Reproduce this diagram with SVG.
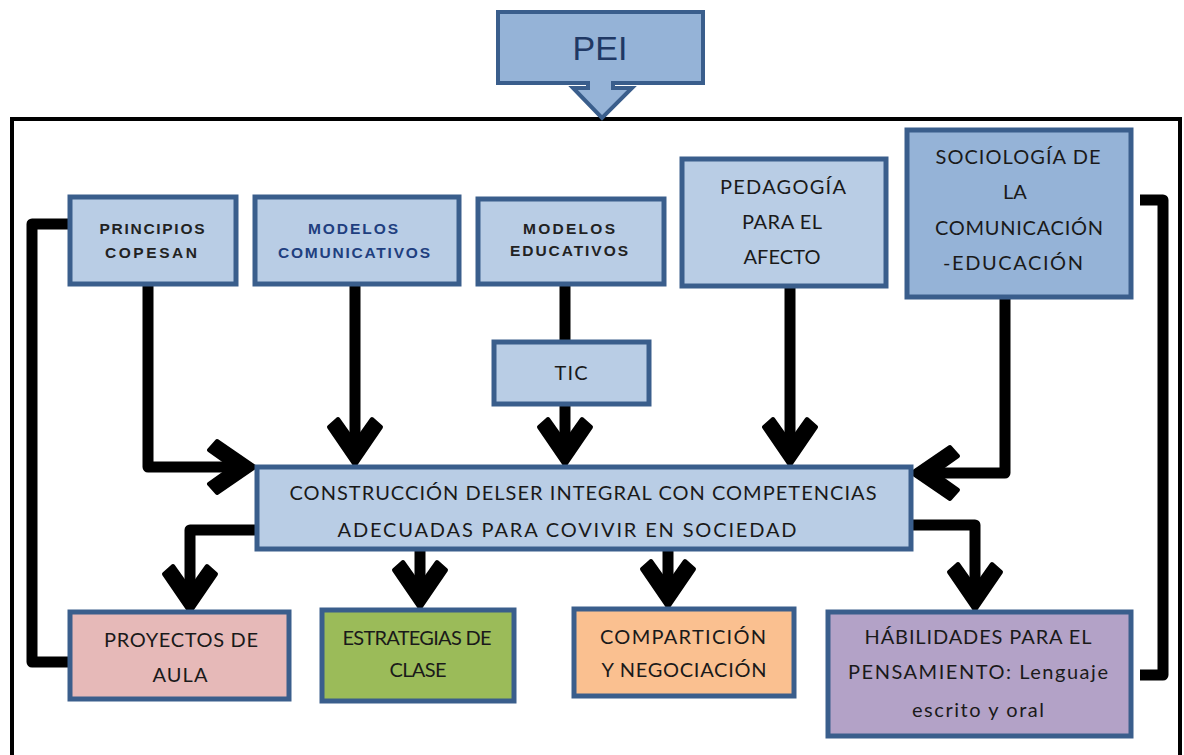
<svg xmlns="http://www.w3.org/2000/svg" width="1184" height="755" viewBox="0 0 1184 755">
<style>
.box{stroke:#3A5E8C;stroke-width:5}
.lt{fill:#B9CDE5}
.dk{fill:#95B3D7}
.t{font-family:Lato,"Liberation Sans",sans-serif;fill:#1a1a1a;text-anchor:middle;font-size:20px}
.s{font-family:"Liberation Sans",Arial,sans-serif;font-weight:bold;font-size:15.5px;fill:#222;text-anchor:middle}
.ln{fill:none;stroke:#000;stroke-width:11;stroke-linejoin:round}
.ah{fill:#000;stroke:#000;stroke-width:4;stroke-linejoin:round}
</style>
<defs>
<path id="ah" d="M0,0 L26,-38 L17,-46 L0,-22 L-17,-46 L-26,-38 Z"/>
</defs>
<rect x="12" y="119" width="1168" height="700" fill="none" stroke="#000" stroke-width="4"/>
<g id="pei">
<path d="M498,12 H703 V83 H613 V88 H632 L602,118 L573,88 H588 V83 H498 Z" fill="#95B3D7" stroke="#3A5E8C" stroke-width="4"/>
<text x="600" y="60" font-family="Liberation Sans,Arial,sans-serif" font-size="34" fill="#1F3864" text-anchor="middle">PEI</text>
</g>
<g id="connectors">
<path class="ln" d="M148,285 V467 H240"/>
<use href="#ah" class="ah" transform="translate(255,467) rotate(-90)"/>
<path class="ln" d="M355,285 V455"/>
<use href="#ah" class="ah" transform="translate(355,465)"/>
<path class="ln" d="M565,285 V340"/>
<path class="ln" d="M565,405 V455"/>
<use href="#ah" class="ah" transform="translate(565,465)"/>
<path class="ln" d="M790,287 V455"/>
<use href="#ah" class="ah" transform="translate(790,465)"/>
<path class="ln" d="M1005,298 V473 H925"/>
<use href="#ah" class="ah" transform="translate(912,473) rotate(90)"/>
<path class="ln" d="M255,530 H190 V600"/>
<use href="#ah" class="ah" transform="translate(190,612)"/>
<path class="ln" d="M420,550 V598"/>
<use href="#ah" class="ah" transform="translate(420,608)"/>
<path class="ln" d="M668,550 V597"/>
<use href="#ah" class="ah" transform="translate(668,607)"/>
<path class="ln" d="M912,525 H975 V600"/>
<use href="#ah" class="ah" transform="translate(975,610)"/>
<path class="ln" d="M68,224 H32 V662 H68"/>
<path class="ln" d="M1140,200 H1163 V675 H1140"/>
</g>
<g id="principios">
<rect class="box lt" x="70" y="197" width="166" height="87"/>
<text class="s" x="152" y="234" textLength="105" lengthAdjust="spacing">PRINCIPIOS</text>
<text class="s" x="151" y="258" textLength="92" lengthAdjust="spacing">COPESAN</text>
</g>
<g id="modelos-comunicativos">
<rect class="box lt" x="255" y="197" width="204" height="87"/>
<text class="s" x="353" y="234" style="fill:#1F3F7F" textLength="90" lengthAdjust="spacing">MODELOS</text>
<text class="s" x="354" y="258" style="fill:#1F3F7F" textLength="152" lengthAdjust="spacing">COMUNICATIVOS</text>
</g>
<g id="modelos-educativos">
<rect class="box lt" x="478" y="199" width="186" height="85"/>
<text class="s" x="569" y="234" textLength="92" lengthAdjust="spacing">MODELOS</text>
<text class="s" x="569" y="256" textLength="118" lengthAdjust="spacing">EDUCATIVOS</text>
</g>
<g id="pedagogia">
<rect class="box lt" x="682" y="159" width="204" height="127"/>
<text class="t" x="783" y="194" textLength="126" lengthAdjust="spacing">PEDAGOGÍA</text>
<text class="t" x="782" y="229" textLength="80" lengthAdjust="spacing">PARA EL</text>
<text class="t" x="782" y="264" textLength="77" lengthAdjust="spacing">AFECTO</text>
</g>
<g id="sociologia">
<rect class="box dk" x="907" y="130" width="224" height="167"/>
<text class="t" x="1018" y="164" textLength="165" lengthAdjust="spacing">SOCIOLOGÍA DE</text>
<text class="t" x="1015" y="199">LA</text>
<text class="t" x="1019" y="235" textLength="168" lengthAdjust="spacing">COMUNICACIÓN</text>
<text class="t" x="1013" y="270" textLength="140" lengthAdjust="spacing">-EDUCACIÓN</text>
</g>
<g id="tic">
<rect class="box lt" x="494" y="342" width="155" height="62"/>
<text class="t" x="571" y="380" font-size="18" textLength="33" lengthAdjust="spacing">TIC</text>
</g>
<g id="construccion">
<rect class="box lt" x="257" y="467" width="654" height="82"/>
<text class="t" x="583" y="500" textLength="587" lengthAdjust="spacing">CONSTRUCCIÓN DELSER INTEGRAL CON COMPETENCIAS</text>
<text class="t" x="567" y="537" textLength="459" lengthAdjust="spacing">ADECUADAS PARA COVIVIR EN SOCIEDAD</text>
</g>
<g id="proyectos">
<rect class="box" fill="#E6B9B8" x="70" y="612" width="219" height="87"/>
<text class="t" x="181" y="647" textLength="154" lengthAdjust="spacing">PROYECTOS DE</text>
<text class="t" x="180" y="682" textLength="55" lengthAdjust="spacing">AULA</text>
</g>
<g id="estrategias">
<rect class="box" fill="#9BBB59" x="322" y="610" width="192" height="91"/>
<text class="t" x="417" y="645" textLength="149" lengthAdjust="spacing">ESTRATEGIAS DE</text>
<text class="t" x="418" y="677" textLength="57" lengthAdjust="spacing">CLASE</text>
</g>
<g id="comparticion">
<rect class="box" fill="#FAC090" x="574" y="609" width="220" height="87"/>
<text class="t" x="683" y="644" textLength="166" lengthAdjust="spacing">COMPARTICIÓN</text>
<text class="t" x="684" y="677" textLength="165" lengthAdjust="spacing">Y NEGOCIACIÓN</text>
</g>
<g id="habilidades">
<rect class="box" fill="#B3A2C7" x="828" y="612" width="303" height="124"/>
<text class="t" x="978" y="644" textLength="227" lengthAdjust="spacing">HÁBILIDADES PARA EL</text>
<text class="t" x="978" y="679" textLength="260" lengthAdjust="spacing">PENSAMIENTO: Lenguaje</text>
<text class="t" x="978" y="717" textLength="132" lengthAdjust="spacing">escrito y oral</text>
</g>
</svg>
